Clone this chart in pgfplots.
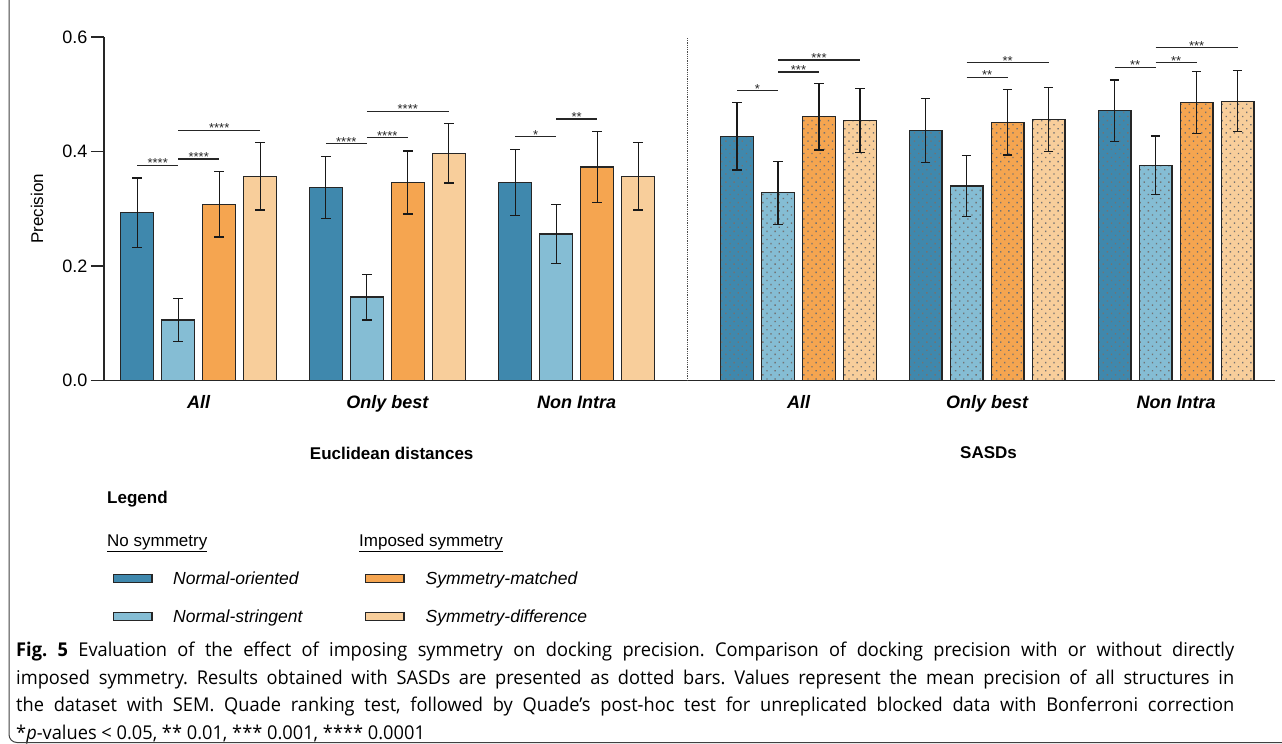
\documentclass[border=0pt]{standalone}
\usepackage{fontspec}
\setmainfont{Liberation Sans}
\newfontfamily\capfont[FakeStretch=0.96]{Open Sans}
\usepackage{pgfplots}
\pgfplotsset{compat=1.18}
\usetikzlibrary{patterns.meta}
\definecolor{cA}{HTML}{3F88AD}
\definecolor{cB}{HTML}{85BDD4}
\definecolor{cC}{HTML}{F5A550}
\definecolor{cD}{HTML}{F8CE9B}
\newcommand{\fs}[1]{\fontsize{#1}{#1}\selectfont}
\newcommand{\sig}[4]{\draw[line width=1.2pt, black!85] (axis cs:#1,#3) -- (axis cs:#2,#3) node[midway, anchor=base, yshift=-2.5pt, font=\fs{13}, inner sep=0pt, text=black!85]{#4};}
\tikzset{dotfill/.style={postaction={pattern={Dots[distance=5.8pt,radius=0.95pt,angle=45]}, pattern color=black!55}}}
\frenchspacing
\begin{document}
\begin{tikzpicture}[x=1pt,y=-1pt]
\path[use as bounding box] (0,0) rectangle (1282,744);
\begin{axis}[
  at={(104pt,-380.7pt)}, anchor=south west,
  scale only axis, width=1171pt, height=343.7pt,
  xmin=104, xmax=1275, ymin=0, ymax=0.6,
  axis x line=bottom, axis y line=left,
  axis line style={-, line width=1.3pt, black!85},
  ytick={0,0.2,0.4,0.6},
  /pgf/number format/assume math mode=true,
  yticklabel style={font=\fs{18}, /pgf/number format/fixed, /pgf/number format/precision=1, /pgf/number format/fixed zerofill},
  tick align=outside,
  major tick length=13pt,
  every tick/.style={line width=1.3pt, black!85},
  xtick={198.7,387.3,576.7,798.5,987.2,1176.2},
  xticklabels={All,Only best,Non Intra,All,Only best,Non Intra},
  x tick style={draw=none},
  xticklabel style={font=\fs{18}\bfseries\itshape, anchor=base, yshift=-15pt},
  ylabel={Precision},
  ylabel style={font=\fs{17}, at={(axis description cs:-0.0572,0.5)}, anchor=center},
  clip=false,
  every axis plot/.append style={ybar, bar shift=0pt, bar width=32.7, draw=black!85, line width=1.2pt},
  error bars/error bar style={line width=1.3pt, black!90},
  error bars/error mark options={rotate=90, line width=1.3pt, mark size=4.75pt, black!90},
]
% Euclidean distances (solid)
\addplot[fill=cA, error bars/.cd, y dir=both, y explicit] coordinates {(137.2,0.293) +- (0,0.061) (325.8,0.337) +- (0,0.054) (515.2,0.346) +- (0,0.058)};
\addplot[fill=cB, error bars/.cd, y dir=both, y explicit] coordinates {(178.2,0.106) +- (0,0.038) (366.8,0.146) +- (0,0.040) (556.2,0.256) +- (0,0.051)};
\addplot[fill=cC, error bars/.cd, y dir=both, y explicit] coordinates {(219.2,0.308) +- (0,0.057) (407.8,0.346) +- (0,0.055) (597.2,0.373) +- (0,0.062)};
\addplot[fill=cD, error bars/.cd, y dir=both, y explicit] coordinates {(260.2,0.357) +- (0,0.059) (448.8,0.397) +- (0,0.052) (638.2,0.357) +- (0,0.059)};
% SASDs (dotted)
\addplot[fill=cA, dotfill, error bars/.cd, y dir=both, y explicit] coordinates {(737,0.427) +- (0,0.059) (925.7,0.437) +- (0,0.056) (1114.7,0.471) +- (0,0.054)};
\addplot[fill=cB, dotfill, error bars/.cd, y dir=both, y explicit] coordinates {(778,0.328) +- (0,0.055) (966.7,0.340) +- (0,0.053) (1155.7,0.376) +- (0,0.051)};
\addplot[fill=cC, dotfill, error bars/.cd, y dir=both, y explicit] coordinates {(819,0.461) +- (0,0.058) (1007.7,0.451) +- (0,0.057) (1196.7,0.486) +- (0,0.054)};
\addplot[fill=cD, dotfill, error bars/.cd, y dir=both, y explicit] coordinates {(860,0.454) +- (0,0.056) (1048.7,0.456) +- (0,0.056) (1237.7,0.488) +- (0,0.053)};
\draw[densely dotted, black!70, line width=0.8pt] (axis cs:687,0) -- (axis cs:687,0.6);
\sig{137.2}{178.2}{0.376}{****}
\sig{178.2}{219.2}{0.387}{****}
\sig{178.2}{260.2}{0.437}{****}
\sig{325.8}{366.8}{0.414}{****}
\sig{366.8}{407.8}{0.424}{****}
\sig{366.8}{448.8}{0.470}{****}
\sig{515.2}{556.2}{0.426}{*}
\sig{556.2}{597.2}{0.457}{**}
\sig{737}{778}{0.506}{*}
\sig{778}{819}{0.539}{***}
\sig{778}{860}{0.560}{***}
\sig{966.7}{1007.7}{0.530}{**}
\sig{966.7}{1048.7}{0.555}{**}
\sig{1114.7}{1155.7}{0.547}{**}
\sig{1155.7}{1196.7}{0.555}{**}
\sig{1155.7}{1237.7}{0.581}{***}
\end{axis}
\node[font=\fs{17}\bfseries] at (391.7,453) {Euclidean distances};
\node[font=\fs{17}\bfseries] at (988.5,453) {SASDs};
% legend
\node[font=\fs{17}\bfseries, anchor=base west, inner sep=0] at (107,503) {Legend};
\node[font=\fs{17}, anchor=base west, inner sep=0] at (107,546) {\underline{No symmetry}};
\node[font=\fs{17}, anchor=base west, inner sep=0] at (359,546) {\underline{Imposed symmetry}};
\draw[fill=cA, draw=black!85, line width=1.2pt] (113.4,574.7) rectangle (152,582.6);
\draw[fill=cB, draw=black!85, line width=1.2pt] (113.4,612.6) rectangle (152,620.5);
\draw[fill=cC, draw=black!85, line width=1.2pt] (365.5,574.7) rectangle (404,582.6);
\draw[fill=cD, draw=black!85, line width=1.2pt] (365.5,612.6) rectangle (404,620.5);
\node[font=\fs{17.5}\itshape, anchor=base west, inner sep=0] at (173,584) {Normal-oriented};
\node[font=\fs{17.5}\itshape, anchor=base west, inner sep=0] at (173,622) {Normal-stringent};
\node[font=\fs{17.5}\itshape, anchor=base west, inner sep=0] at (425.5,584) {Symmetry-matched};
\node[font=\fs{17.5}\itshape, anchor=base west, inner sep=0] at (425.5,622) {Symmetry-difference};
% caption
\node[anchor=north west, inner sep=0, text width=1218pt, align=justify, font=\capfont\fontsize{19}{27.5}\selectfont] at (16,642) {\textbf{Fig. 5} Evaluation of the effect of imposing symmetry on docking precision. Comparison of docking precision with or without directly\linebreak imposed symmetry. Results obtained with SASDs are presented as dotted bars. Values represent the mean precision of all structures in\linebreak the dataset with SEM. Quade ranking test, followed by Quade’s post-hoc test for unreplicated blocked data with Bonferroni correction\linebreak *\textit{p}-values < 0.05, ** 0.01, *** 0.001, **** 0.0001};
% frame
\draw[line width=1pt, black!75, rounded corners=8pt] (9,-10) -- (9,742.5) -- (1300,742.5);
\end{tikzpicture}
\end{document}
